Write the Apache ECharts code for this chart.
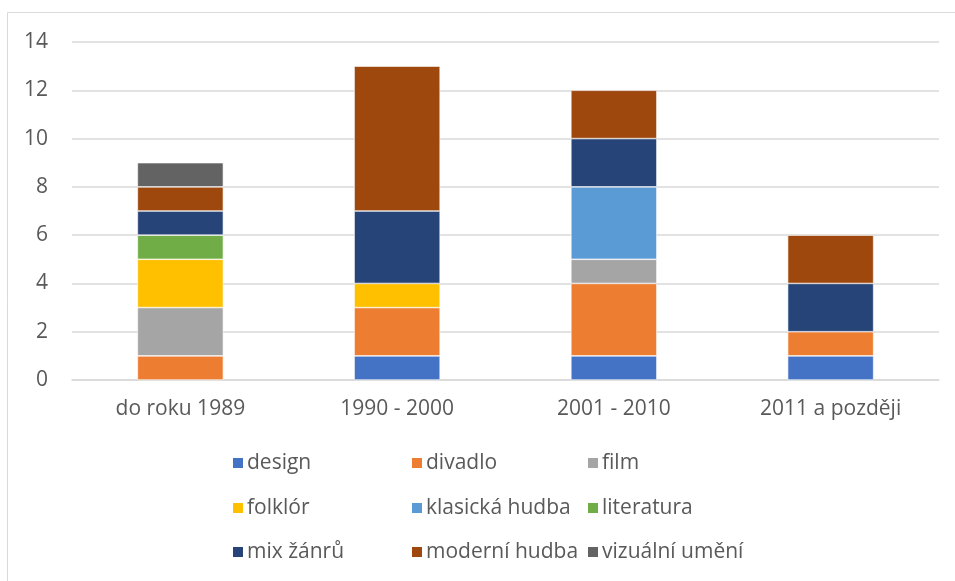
<!DOCTYPE html>
<html>
<head>
<meta charset="utf-8">
<script src="https://cdn.jsdelivr.net/npm/echarts@6/dist/echarts.min.js"></script>
<style>
html,body{margin:0;padding:0;background:#fff;}
#container{width:955px;height:581px;}
</style>
</head>
<body>
<div id="container"></div>
<script>
var categories = ['do roku 1989', '1990 - 2000', '2001 - 2010', '2011 a později'];
var yTicks = [0, 2, 4, 6, 8, 10, 12, 14];

var design      = [0, 1, 1, 1];
var divadlo     = [1, 2, 3, 1];
var film        = [2, 0, 1, 0];
var folklor     = [2, 1, 0, 0];
var klasicka    = [0, 0, 3, 0];
var literatura  = [1, 0, 0, 0];
var mixZanru    = [1, 3, 2, 2];
var moderni     = [1, 6, 2, 2];
var vizualni    = [1, 0, 0, 0];

var seriesDefs = [
	{name: 'design', data: design, color: '#4472C4'},
	{name: 'divadlo', data: divadlo, color: '#ED7D31'},
	{name: 'film', data: film, color: '#A5A5A5'},
	{name: 'folklór', data: folklor, color: '#FFC000'},
	{name: 'klasická hudba', data: klasicka, color: '#5B9BD5'},
	{name: 'literatura', data: literatura, color: '#70AD47'},
	{name: 'mix žánrů', data: mixZanru, color: '#264478'},
	{name: 'moderní hudba', data: moderni, color: '#9E480E'},
	{name: 'vizuální umění', data: vizualni, color: '#636363'}
];

// legend grid: 3 columns x 3 rows
var legendCols = [231, 410, 586];
var legendRows = [463, 508, 552];

var font = '"Open Sans", "DejaVu Sans", sans-serif';

var dom = document.getElementById('container');
var myChart = echarts.init(dom);

var legends = seriesDefs.map(function(s, i){
	return {
		data: [s.name],
		left: legendCols[i % 3],
		top: legendRows[Math.floor(i / 3)] - 12,
		padding: 0,
		icon: 'rect',
		itemWidth: 12,
		itemHeight: 12,
		itemGap: 0,
		selectedMode: false,
		textStyle: {color: '#595959', fontSize: 21, fontFamily: font, lineHeight: 24, padding: [0, 0, 0, -2]}
	};
});

var option = {
	animation: false,
	color: seriesDefs.map(function(s){ return s.color; }),
	graphic: [{
		type: 'rect',
		shape: {x: 7.5, y: 12.5, width: 1000, height: 700},
		style: {fill: 'none', stroke: '#D9D9D9', lineWidth: 1},
		silent: true
	}],
	legend: legends,
	grid: {left: 72, right: 16, top: 42, bottom: 201, containLabel: false},
	xAxis: {
		type: 'category',
		data: categories,
		axisLine: {lineStyle: {color: '#D9D9D9', width: 1.5}},
		axisTick: {show: false},
		axisLabel: {color: '#595959', fontSize: 21, fontFamily: font, margin: 19}
	},
	yAxis: {
		type: 'value',
		min: yTicks[0],
		max: yTicks[yTicks.length - 1],
		interval: 2,
		axisLine: {show: false},
		axisTick: {show: false},
		splitLine: {lineStyle: {color: '#D9D9D9', width: 1.5}},
		axisLabel: {color: '#595959', fontSize: 21, fontFamily: font, margin: 24}
	},
	series: seriesDefs.map(function(s){
		return {
			name: s.name,
			type: 'bar',
			stack: 'total',
			barWidth: 86,
			data: s.data.map(function(v){ return v === 0 ? '-' : v; }),
			itemStyle: {color: s.color, borderColor: '#ffffff', borderWidth: 0.6}
		};
	})
};

if (option && typeof option === "object") {
	myChart.setOption(option, true);
}
</script>
</body>
</html>
